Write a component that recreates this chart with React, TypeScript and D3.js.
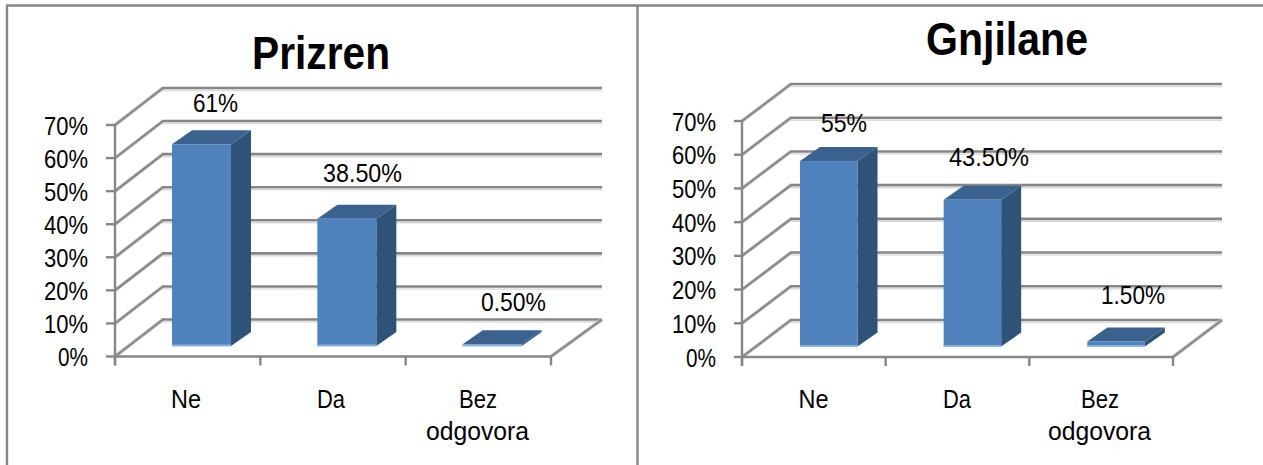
import React from "react";
import * as d3 from "d3";

const categories = ["Ne", "Da", "Bez odgovora"];
const prizrenValues = [61, 38.5, 0.5];
const gnjilaneValues = [55, 43.5, 1.5];
const prizrenLabels = ["61%", "38.50%", "0.50%"];
const gnjilaneLabels = ["55%", "43.50%", "1.50%"];
const yTicks = [0, 10, 20, 30, 40, 50, 60, 70];

const AXIS = "#868686";
const FONT = "'Liberation Sans', Arial, sans-serif";

type PanelCfg = {
  title: string;
  titleX: [number, number];
  titleBase: number;
  values: number[];
  labels: string[];
  labelPos: { x: number; w: number; base: number }[];
  x0: number;
  x1: number;
  gridEnd: number;
  yBottom: number;
  yTop: number;
  depthX: number;
  depthY: number;
  barW: number;
  barShift: number;
  tickRight: number;
  catCx: number[];
};

const panels: PanelCfg[] = [
  {
    title: "Prizren",
    titleX: [252, 138],
    titleBase: 69,
    values: prizrenValues,
    labels: prizrenLabels,
    labelPos: [
      { x: 193, w: 45, base: 112 },
      { x: 323, w: 79, base: 182 },
      { x: 481, w: 65, base: 311 },
    ],
    x0: 115,
    x1: 551,
    gridEnd: 602,
    yBottom: 356.5,
    yTop: 125,
    depthX: 48,
    depthY: 37,
    barW: 59,
    barShift: 57,
    tickRight: 88,
    catCx: [186, 331, 478],
  },
  {
    title: "Gnjilane",
    titleX: [926, 162],
    titleBase: 55,
    values: gnjilaneValues,
    labels: gnjilaneLabels,
    labelPos: [
      { x: 821, w: 46, base: 132 },
      { x: 949, w: 80, base: 166 },
      { x: 1101, w: 64, base: 304 },
    ],
    x0: 742,
    x1: 1173,
    gridEnd: 1222,
    yBottom: 357,
    yTop: 121,
    depthX: 49,
    depthY: 37,
    barW: 57.5,
    barShift: 58,
    tickRight: 716,
    catCx: [813.5, 957, 1100],
  },
];

function Label(p: { x: number; y: number; w: number; size: number; bold?: boolean; children: string }) {
  return (
    <text
      x={p.x}
      y={p.y}
      textLength={p.w}
      lengthAdjust="spacingAndGlyphs"
      fontFamily={FONT}
      fontSize={p.size}
      fontWeight={p.bold ? 700 : 400}
      fill="#000"
    >
      {p.children}
    </text>
  );
}

function Panel({ cfg }: { cfg: PanelCfg }) {
  const x = d3.scaleBand<string>().domain(categories).range([cfg.x0, cfg.x1]);
  const y = d3.scaleLinear().domain([0, 70]).range([cfg.yBottom, cfg.yTop]);
  const barBase = 10.5;
  const barDX = 20;
  const barDY = 14;
  const { depthX: dx, depthY: dy } = cfg;
  const tickX = [cfg.x0, ...categories.map((c) => x(c)! + x.bandwidth())];

  return (
    <g>
      {yTicks.map((t) => (
        <g key={t}>
          <line x1={cfg.x0 + dx} x2={cfg.gridEnd} y1={y(t) - dy + 2.5} y2={y(t) - dy + 2.5} stroke="#dcdcdc" strokeWidth={1.5} />
          <line x1={cfg.x0} y1={y(t)} x2={cfg.x0 + dx} y2={y(t) - dy} stroke="#c4c4d4" strokeWidth={3.6} />
          <line x1={cfg.x0} y1={y(t)} x2={cfg.x0 + dx} y2={y(t) - dy} stroke={AXIS} strokeWidth={2} />
          <line x1={cfg.x0 + dx - 1} x2={cfg.gridEnd} y1={y(t) - dy} y2={y(t) - dy} stroke={AXIS} strokeWidth={2.6} />
          <line x1={cfg.tickRight + 18} x2={cfg.x0} y1={y(t)} y2={y(t)} stroke={AXIS} strokeWidth={2.4} />
          <Label x={cfg.tickRight - (t === 0 ? 30 : 44)} y={y(t) + 9.5} w={t === 0 ? 30 : 44} size={25}>
            {`${t}%`}
          </Label>
        </g>
      ))}
      <line x1={cfg.x1} y1={y(0)} x2={cfg.gridEnd} y2={y(0) - dy} stroke="#c4c4d4" strokeWidth={3.6} />
      <line x1={cfg.x1} y1={y(0)} x2={cfg.gridEnd} y2={y(0) - dy} stroke={AXIS} strokeWidth={2} />
      <line x1={cfg.x0} x2={cfg.x0} y1={y(70) - 1} y2={y(0) + 9} stroke={AXIS} strokeWidth={2.4} />
      <line x1={cfg.x0 - 1} x2={cfg.x1 + 1} y1={y(0)} y2={y(0)} stroke={AXIS} strokeWidth={2.6} />
      {tickX.map((tx, i) => (
        <line key={i} x1={tx} x2={tx} y1={y(0)} y2={y(0) + 9} stroke={AXIS} strokeWidth={2.4} />
      ))}

      {categories.map((c, i) => {
        const left = x(c)! + cfg.barShift;
        const right = left + cfg.barW;
        const base = y(0) - barBase;
        const top = y(cfg.values[i]) - barBase;
        return (
          <g key={c}>
            <path
              d={`M${right},${top}L${right + barDX},${top - barDY}L${right + barDX},${base - barDY}L${right},${base}Z`}
              fill="#2f5279"
            />
            <path
              d={`M${left},${top}L${left + barDX},${top - barDY}L${right + barDX},${top - barDY}L${right},${top}Z`}
              fill="#3b628f"
            />
            <rect x={left} y={top} width={cfg.barW} height={base - top} fill="#4f81bd" />
            <rect x={left} y={base - 1.5} width={cfg.barW} height={2} fill="#8db3e2" />
          </g>
        );
      })}

      {cfg.labels.map((l, i) => (
        <Label key={l} x={cfg.labelPos[i].x} y={cfg.labelPos[i].base} w={cfg.labelPos[i].w} size={25}>
          {l}
        </Label>
      ))}

      <Label x={cfg.catCx[0] - 15} y={408} w={30} size={25}>Ne</Label>
      <Label x={cfg.catCx[1] - 14} y={408} w={28} size={25}>Da</Label>
      <Label x={cfg.catCx[2] - 19} y={408} w={38} size={25}>Bez</Label>
      <Label x={cfg.catCx[2] - 52} y={440} w={103} size={25}>odgovora</Label>

      <Label x={cfg.titleX[0]} y={cfg.titleBase} w={cfg.titleX[1]} size={46} bold>
        {cfg.title}
      </Label>
    </g>
  );
}

export default function App() {
  return (
    <svg
      width={1263}
      height={465}
      viewBox="0 0 1263 465"
      style={{ position: "absolute", left: 0, top: 0, display: "block", background: "#fff" }}
    >
      <line x1={6} x2={1263} y1={5.5} y2={5.5} stroke={AXIS} strokeWidth={2.4} />
      <line x1={7} x2={7} y1={5} y2={465} stroke={AXIS} strokeWidth={2.4} />
      <line x1={637.5} x2={637.5} y1={5} y2={465} stroke={AXIS} strokeWidth={2.4} />
      {panels.map((p) => (
        <Panel key={p.title} cfg={p} />
      ))}
    </svg>
  );
}
